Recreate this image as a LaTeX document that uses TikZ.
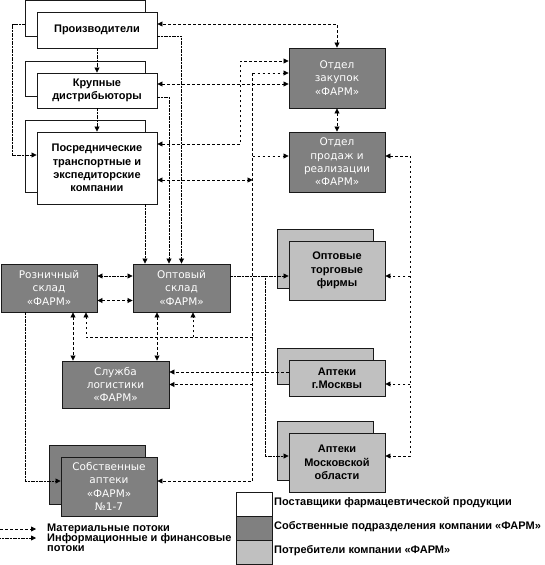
\documentclass[tikz,border=0pt]{standalone}
\usepackage{fontspec}
\setmainfont{Liberation Sans}
\newfontfamily\dvfont{DejaVu Sans}
\usepackage{tikz}
\usetikzlibrary{arrows.meta,shadows}
\definecolor{FG}{HTML}{808080}
\definecolor{CG}{HTML}{C0C0C0}
\tikzset{
    BX/.style ={rectangle,draw=black!90,line width=0.9pt,inner sep=0pt,align=center},
    SUP/.style ={BX,fill=white,minimum width=120pt,font=\fontsize{11}{13.4}\selectfont\bfseries},
    OWN/.style ={BX,fill=FG,text=white,minimum width=96pt,font=\dvfont\fontsize{10.5}{13.3}\selectfont},
    CON/.style ={BX,fill=CG,minimum width=96pt,font=\fontsize{11}{13.4}\selectfont\bfseries},
    SH/.style ={copy shadow={shadow xshift=-12pt,shadow yshift=12pt}},
    LG/.style ={anchor=west,inner sep=0pt,font=\fontsize{11}{13}\selectfont\bfseries},
    LL/.style ={LG,align=left,font=\fontsize{11}{10}\selectfont\bfseries}
}
\begin{document}
\begin{tikzpicture}[x=1pt,y=-1pt,>={Triangle[length=5pt,width=5pt]},
        MF/.style={dash pattern=on 2.5pt off 2.5pt,line width=0.8pt},
        IF/.style={dash pattern=on 1.2pt off 0.4pt,line width=0.8pt}]
    \useasboundingbox (0,0) rectangle (545,565);
    \node[SUP,SH,minimum height=36pt](1) at (97,30) {Производители};
    \node[SUP,SH,minimum height=35pt](2) at (97,90.5) {Крупные\\дистрибьюторы};
    \node[SUP,SH,minimum height=72pt](3) at (97,168) {Посреднические\\транспортные и\\экспедиторские\\компании};
    \node[OWN,minimum height=60pt](4) at (337,78) {Отдел\\закупок\\«ФАРМ»};
    \node[OWN,minimum height=60pt](5) at (337,162) {Отдел\\продаж и\\реализации\\«ФАРМ»};
    \node[CON,SH,minimum height=59pt](6) at (337,270.5) {Оптовые\\торговые\\фирмы};
    \node[CON,SH,minimum height=36pt](7) at (337,378) {Аптеки\\г.Москвы};
    \node[CON,SH,minimum height=59pt](8) at (337,462.5) {Аптеки\\Московской\\области};
    \node[OWN,minimum height=48pt](9) at (49,288) {Розничный\\склад\\«ФАРМ»};
    \node[OWN,minimum height=48pt,minimum width=97pt](10) at (181.5,288) {Оптовый\\склад\\«ФАРМ»};
    \node[OWN,minimum height=47pt,minimum width=107pt](11) at (115.5,384.5) {Служба\\логистики\\«ФАРМ»};
    \node[OWN,SH,minimum height=59pt](12) at (109,486.5) {Собственные\\аптеки\\«ФАРМ»\\№1-7};
    \coordinate (b1) at ([xshift=-36pt,yshift=5pt]4.west);
    \coordinate (b2) at ([yshift=5.5pt]12.east -| b1);
    \coordinate (b3) at ([xshift=25pt,yshift=6pt]5.east);
    \coordinate (b4) at ([xshift=35pt,yshift=12pt]10.east);
    \draw[IF,->] (1) -- (2);
    \draw[IF,->] (2) -- (3);
    \draw[IF,->] ([xshift=-12pt,yshift=6pt]1.west) -| ([xshift=-24pt,yshift=13pt]3.west) -- ([yshift=13pt]3.west);
    \draw[IF,->] ([yshift=-6pt]1.east) -| (10.north);
    \draw[IF,->] ([yshift=-6.5pt]2.east) -| ([xshift=-12.5pt]10.north);
    \draw[IF,->] ([xshift=48pt]3.south) -- ([xshift=48pt]3.south |- 10.north);
    \draw[IF,<->] ([yshift=12pt]9.east) -- ([yshift=12pt]10.west);
    \draw[IF,->] ([yshift=12pt]10.east) -- ([yshift=12pt]10.east -| 6.west);
    \draw[IF,->] (b4) |- ([yshift=6.5pt]8.west);
    \draw[IF,->] ([xshift=-24pt]9.south) |- ([yshift=5.5pt]12.west);
    \draw[MF,<->] (4.north) |- ([yshift=6pt]1.east);
    \draw[MF,<->] ([yshift=6.5pt]2.east) -- ([yshift=6.5pt]2.east -| 4.west);
    \draw[MF,<->] ([yshift=24pt]3.east) -| ([xshift=-48pt,yshift=17pt]4.west) -- ([yshift=17pt]4.west);
    \draw[MF,<->] ([yshift=-12pt]3.east) -- ([yshift=-12pt]3.east -| b1);
    \draw[MF,->] (b1) -- ([yshift=5pt]4.west);
    \draw[MF,->] (b1) -- (b2) -- ([yshift=5.5pt]12.east);
    \draw[MF,->] ([yshift=6pt]5.west -| b1) -- ([yshift=6pt]5.west);
    \draw[MF,<->] (4) -- (5);
    \draw[MF,->] ([yshift=-25pt]9.south -| b1) -| ([xshift=37pt]9.south);
    \draw[MF,->] ([xshift=11.5pt,yshift=-25pt]10.south) -- ([xshift=11.5pt]10.south);
    \draw[MF,->] (11.east -| b1) -- (11.east);
    \draw[MF,->] ([yshift=6pt]7.west) -- ([yshift=6pt]7.west -| 11.east);
    \draw[MF,<->] ([yshift=-12.5pt]9.east) -- ([yshift=-12.5pt]10.west);
    \draw[MF,<->] ([xshift=24pt]9.south) -- ([xshift=24pt]9.south |- 11.north);
    \draw[MF,<->] ([xshift=-24.5pt]10.south) -- ([xshift=-24.5pt]10.south |- 11.north);
    \draw[MF,<->] ([yshift=6pt]5.east) -- (b3) |- ([yshift=6.5pt]8.east);
    \draw[MF,->] ([yshift=-5.5pt]6.east -| b3) -- ([yshift=-5.5pt]6.east);
    \draw[MF,->] ([yshift=-6pt]7.east -| b3) -- ([yshift=-6pt]7.east);
    \node[BX,fill=white,minimum width=36pt,minimum height=24pt](13) at (254,504) {};
    \node[BX,fill=FG,minimum width=36pt,minimum height=24pt](14) at (254,528) {};
    \node[BX,fill=CG,minimum width=36pt,minimum height=24pt](15) at (254,552) {};
    \node[LG](16) at (274,503) {Поставщики фармацевтической продукции};
    \node[LG](17) at (274,527) {Собственные подразделения компании «ФАРМ»};
    \node[LG](18) at (274,551) {Потребители компании «ФАРМ»};
    \node[LL](19) at (47,529) {Материальные потоки};
    \node[LL](20) at (47,543) {Информационные и финансовые\\потоки};
    \draw[MF,->] ([xshift=-47pt]19.west) -- ([xshift=-11pt]19.west);
    \draw[IF,->] ([xshift=-47pt,yshift=5pt]20.west) -- ([xshift=-11pt,yshift=5pt]20.west);
\end{tikzpicture}
\end{document}
